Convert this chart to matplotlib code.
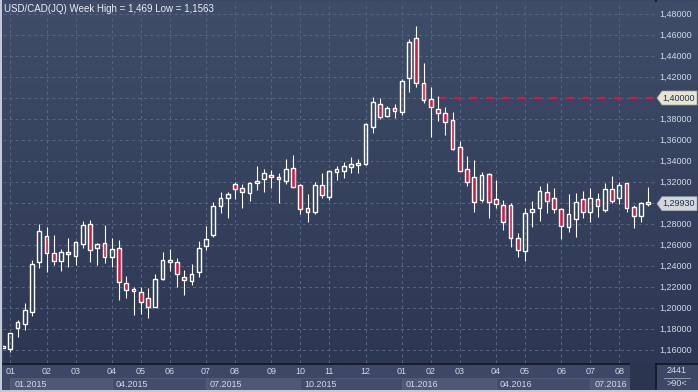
import numpy as np
import matplotlib
matplotlib.use("Agg")
import matplotlib.pyplot as plt
from matplotlib.patches import Rectangle, Polygon
from matplotlib.colors import LinearSegmentedColormap

plt.rcParams['font.family'] = ['Liberation Sans', 'DejaVu Sans']
plt.rcParams['lines.scale_dashes'] = False

# ---------------- data (weekly USD/CAD candles) ----------------
opens = [1.1628, 1.1610, 1.1807, 1.1848, 1.1965, 1.2441, 1.2686, 1.2521, 1.2450, 1.2530,
         1.2500, 1.2610, 1.2797, 1.2569, 1.2616, 1.2483, 1.2569, 1.2235, 1.2181, 1.2155,
         1.2092, 1.2012, 1.2273, 1.2441, 1.2441, 1.2298, 1.2260, 1.2346, 1.2593, 1.2695,
         1.2975, 1.3045, 1.3178, 1.3140, 1.3092, 1.3194, 1.3229, 1.3264, 1.3245, 1.3212,
         1.3330, 1.3169, 1.2950, 1.2911, 1.3169, 1.3060, 1.3298, 1.3308, 1.3340, 1.3362,
         1.3369, 1.3727, 1.3940, 1.3829, 1.3902, 1.3864, 1.4188, 1.4568, 1.4140, 1.3988,
         1.3892, 1.3854, 1.3790, 1.3530, 1.3321, 1.3245, 1.3029, 1.3276, 1.3035, 1.2981,
         1.2981, 1.2664, 1.2546, 1.2917, 1.2950, 1.3108, 1.3045, 1.2940, 1.2775, 1.2845,
         1.3035, 1.2911, 1.3035, 1.2933, 1.3130, 1.3045, 1.3188, 1.2959, 1.2879, 1.3010]
highs = [1.1635, 1.1762, 1.1886, 1.2050, 1.2457, 1.2800, 1.2769, 1.2695, 1.2559, 1.2670,
         1.2640, 1.2829, 1.2838, 1.2622, 1.2788, 1.2667, 1.2648, 1.2305, 1.2197, 1.2197,
         1.2188, 1.2324, 1.2536, 1.2562, 1.2473, 1.2362, 1.2419, 1.2641, 1.2781, 1.3013,
         1.3108, 1.3108, 1.3197, 1.3181, 1.3203, 1.3352, 1.3321, 1.3314, 1.3283, 1.3416,
         1.3457, 1.3178, 1.3086, 1.3200, 1.3289, 1.3314, 1.3352, 1.3394, 1.3441, 1.3416,
         1.3765, 1.4007, 1.3997, 1.3924, 1.3943, 1.4178, 1.4559, 1.4690, 1.4330, 1.4102,
         1.4019, 1.3911, 1.3864, 1.3594, 1.3448, 1.3410, 1.3298, 1.3289, 1.3219, 1.3029,
         1.2997, 1.2711, 1.2950, 1.3019, 1.3162, 1.3194, 1.3140, 1.2950, 1.3086, 1.3098,
         1.3117, 1.3140, 1.3098, 1.3194, 1.3257, 1.3203, 1.3194, 1.2981, 1.3013, 1.3149]
lows = [1.1622, 1.1585, 1.1721, 1.1790, 1.1927, 1.2378, 1.2346, 1.2410, 1.2355, 1.2393,
        1.2410, 1.2569, 1.2441, 1.2410, 1.2426, 1.2387, 1.2076, 1.2098, 1.1933, 1.1940,
        1.1908, 1.2006, 1.2267, 1.2355, 1.2197, 1.2124, 1.2219, 1.2298, 1.2552, 1.2679,
        1.2908, 1.2860, 1.3038, 1.2950, 1.3022, 1.3124, 1.3108, 1.3146, 1.3003, 1.3181,
        1.3140, 1.2895, 1.2822, 1.2895, 1.3045, 1.3029, 1.3219, 1.3241, 1.3283, 1.3289,
        1.3362, 1.3670, 1.3800, 1.3816, 1.3812, 1.3838, 1.4060, 1.4108, 1.3950, 1.3631,
        1.3784, 1.3648, 1.3505, 1.3305, 1.3165, 1.2917, 1.3013, 1.2854, 1.2950, 1.2743,
        1.2584, 1.2489, 1.2450, 1.2769, 1.2832, 1.2908, 1.2908, 1.2654, 1.2727, 1.2673,
        1.2854, 1.2822, 1.2864, 1.2917, 1.2997, 1.2990, 1.2917, 1.2759, 1.2822, 1.2974]
closes = [1.1632, 1.1759, 1.1870, 1.1981, 1.2419, 1.2733, 1.2521, 1.2448, 1.2533, 1.2511,
          1.2626, 1.2788, 1.2552, 1.2607, 1.2486, 1.2559, 1.2245, 1.2171, 1.2162, 1.2060,
          1.2006, 1.2273, 1.2457, 1.2450, 1.2324, 1.2267, 1.2324, 1.2569, 1.2654, 1.2971,
          1.3045, 1.3086, 1.3130, 1.3102, 1.3188, 1.3210, 1.3283, 1.3245, 1.3226, 1.3321,
          1.3150, 1.2940, 1.2911, 1.3169, 1.3079, 1.3305, 1.3321, 1.3352, 1.3371, 1.3374,
          1.3752, 1.3959, 1.3822, 1.3902, 1.3879, 1.4165, 1.4536, 1.4140, 1.3981, 1.3917,
          1.3854, 1.3769, 1.3511, 1.3308, 1.3203, 1.3007, 1.3267, 1.3007, 1.2990, 1.2822,
          1.2664, 1.2552, 1.2908, 1.2940, 1.3114, 1.3019, 1.2940, 1.2781, 1.2895, 1.3013,
          1.2911, 1.3045, 1.2971, 1.3130, 1.3022, 1.3171, 1.2950, 1.2876, 1.2997, 1.2993]

month_labels = ['01', '02', '03', '04', '05', '06', '07', '08', '09', '10', '11', '12',
                '01', '02', '03', '04', '05', '06', '07', '08']
month_start_bar = [1, 6, 10, 15, 19, 23, 28, 32, 37, 41, 45, 50, 55, 59, 63, 68, 72, 77, 81, 85]
quarter_labels = ['01.2015', '04.2015', '07.2015', '10.2015', '01.2016', '04.2016', '07.2016']
y_ticks = [1.16, 1.18, 1.20, 1.22, 1.24, 1.26, 1.28, 1.30, 1.32, 1.34, 1.36, 1.38,
           1.40, 1.42, 1.44, 1.46, 1.48]
alert_level = 1.40
alert_start_bar = 60
last_price = 1.29930
title = "USD/CAD(JQ) Week High = 1,469 Low = 1,1563"
bar_count_text = "2441"
visible_text = ">90<"

# ---------------- layout ----------------
W, H = 698, 392
fig = plt.figure(figsize=(W / 100, H / 100), dpi=100, facecolor='#3c4865')

PX = 0.72  # one pixel in points
top_col, bot_col = '#3f4d69', '#2c3753'
grad = LinearSegmentedColormap.from_list('g', [bot_col, top_col])
grid_col = '#56647f'
txt_col = '#cfd9e8'
red = '#e0143c'

# background decorations in pixel coordinates
bg = fig.add_axes([0, 0, 1, 1], zorder=0)
bg.set_xlim(0, W)
bg.set_ylim(H, 0)
bg.axis('off')
bg.add_patch(Rectangle((0, 363), W, 29, facecolor='#3c4865', edgecolor='none'))

main_left, main_right, main_top, main_bot = 2.5, 655, 2, 363
ax = fig.add_axes([main_left / W, (H - main_bot) / H, (main_right - main_left) / W,
                   (main_bot - main_top) / H], zorder=1)
px_per_bar = 7.25
px_per_price = 1050
x0 = (main_left - 3) / px_per_bar
x1 = (main_right - 3) / px_per_bar
y_top = 1.48 + (14 - main_top) / px_per_price
y_bot = 1.48 - (main_bot - 14) / px_per_price
ax.set_xlim(x0, x1)
ax.set_ylim(y_bot, y_top)
ax.imshow(np.linspace(0, 1, 256).reshape(-1, 1), cmap=grad, origin='lower',
          extent=[x0, x1, y_bot, y_top], aspect='auto', zorder=0)
ax.set_xlim(x0, x1)
ax.set_ylim(y_bot, y_top)
for s in ax.spines.values():
    s.set_visible(False)
ax.set_xticks([])
ax.set_yticks([])

# grid
for yv in y_ticks:
    ax.axhline(yv, color=grid_col, lw=PX, dashes=(2.2, 2.2), zorder=1)
for b in month_start_bar:
    ax.axvline(b, color=grid_col, lw=PX, dashes=(2.2, 2.2), zorder=1)

# alert line
ax.plot([alert_start_bar, x1], [alert_level, alert_level], color=red, lw=2 * PX,
        dashes=(5.6, 5.9), zorder=2, solid_capstyle='butt', dash_capstyle='butt')

# candles
bw = 3.8 / px_per_bar
min_h = 2.0 / px_per_price
for i, (o, h, l, c) in enumerate(zip(opens, highs, lows, closes)):
    top, bot = max(o, c), min(o, c)
    if top - bot < min_h:
        m = (top + bot) / 2
        top, bot = m + min_h / 2, m - min_h / 2
    ax.plot([i, i], [top, h], color='white', lw=1.1 * PX, zorder=3, solid_capstyle='butt')
    ax.plot([i, i], [l, bot], color='white', lw=1.1 * PX, zorder=3, solid_capstyle='butt')
    fc = red if c < o else 'none'
    ax.add_patch(Rectangle((i - bw / 2, bot), bw, top - bot, facecolor=fc,
                           edgecolor='white', lw=1.4 * PX, zorder=4))

ax.text(1.5 / (main_right - main_left), 1 - 7 / (main_bot - main_top), title,
        transform=ax.transAxes, color='#e8edf4', fontsize=7, va='center', ha='left', zorder=6)
ax.set_xlim(x0, x1)
ax.set_ylim(y_bot, y_top)

# right price axis panel
axr = fig.add_axes([main_right / W, (H - main_bot) / H, (W - main_right) / W,
                    (main_bot - main_top) / H], zorder=1)
axr.set_xlim(0, W - main_right)
axr.set_ylim(y_bot, y_top)
axr.imshow(np.linspace(0, 1, 256).reshape(-1, 1), cmap=grad, origin='lower',
           extent=[0, W - main_right, y_bot, y_top], aspect='auto', zorder=0)
axr.set_xlim(0, W - main_right)
axr.set_ylim(y_bot, y_top)
axr.axis('off')
tag_levels = [alert_level, last_price]
for yv in y_ticks:
    if any(abs(yv - t) * px_per_price < 10 for t in tag_levels):
        continue
    axr.text(4, yv, f"{yv:.5f}".replace('.', ','), color=txt_col, fontsize=6.5,
             va='center', ha='left')


def price_tag(yv, face, text):
    hh = 7 / px_per_price
    axr.add_patch(Polygon([(2, yv), (7, yv + hh), (42, yv + hh), (42, yv - hh), (7, yv - hh)],
                          closed=True, facecolor=face, edgecolor='#9aa3ad', lw=0.5, zorder=3))
    axr.text(7.5, yv, text, color='#1d2f55', fontsize=6.5, va='center', ha='left', zorder=4)


price_tag(alert_level, '#e9e6cf', f"{alert_level:.5f}".replace('.', ','))
price_tag(last_price, '#d3d7dc', f"{last_price:.5f}".replace('.', ','))

# bottom time axis panel (x in bar units, y in pixels)
axx = fig.add_axes([main_left / W, 2 / H, (main_right - main_left) / W, (390 - 363) / H],
                   zorder=1)
axx.set_xlim(x0, x1)
axx.set_ylim(390, 363)
axx.axis('off')
axx.patch.set_alpha(0)
q_starts = month_start_bar[::3]
last_end = 86.5
for k, lab in enumerate(quarter_labels):
    s = q_starts[k]
    e = q_starts[k + 1] if k + 1 < len(q_starts) else last_end
    face = '#4d5975' if k % 2 == 0 else '#414d6a'
    axx.add_patch(Rectangle((s, 377.5), e - s, 12.5, facecolor=face,
                            edgecolor='#56627c', lw=0.5, zorder=1))
    axx.text(s + 4 / px_per_bar, 384, lab, color=txt_col, fontsize=6.5,
             va='center', ha='left', zorder=2)
axx.add_patch(Rectangle((last_end, 363), x1 - last_end, 27, facecolor='#2b3550',
                        edgecolor='none', zorder=1))
for b, lab in zip(month_start_bar, month_labels):
    axx.text(b, 371.5, lab, color=txt_col, fontsize=6.5, va='center', ha='center', zorder=2)

# separators, frame, counters
bg.plot([0, W], [363.5, 363.5], color='#0c0f18', lw=1.5 * PX, zorder=5)
bg.plot([655.5, 655.5], [0, 390], color='#0c0f18', lw=1.5 * PX, zorder=5)
bg.add_patch(Rectangle((0, 0), 2, H, facecolor='#c3cad3', edgecolor='none', zorder=6))
bg.add_patch(Rectangle((0, 390), W, 2, facecolor='#c3cad3', edgecolor='none', zorder=6))
bg.text(677, 370.5, bar_count_text, color=txt_col, fontsize=6.5, ha='center', va='center')
bg.plot([664, 690], [377.5, 377.5], color='#8c97aa', lw=PX)
bg.text(677, 383.5, visible_text, color=txt_col, fontsize=6.5, ha='center', va='center')
bg.set_zorder(0)

fig.savefig('out.png', dpi=100, facecolor=fig.get_facecolor())
